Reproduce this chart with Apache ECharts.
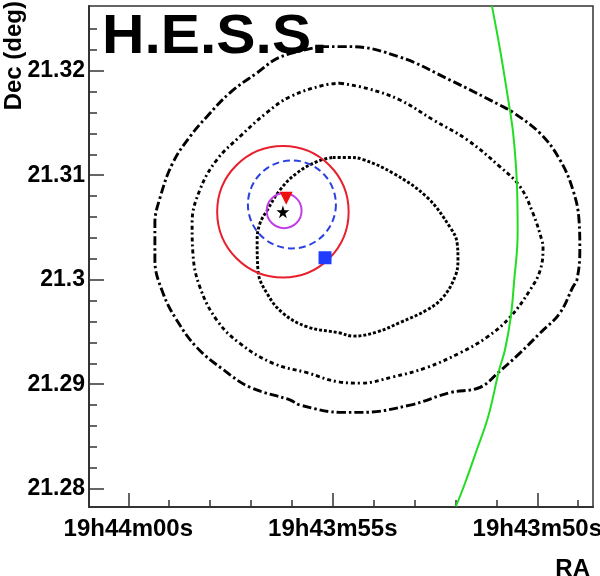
<!DOCTYPE html>
<html>
<head>
<meta charset="utf-8">
<script src="https://cdn.jsdelivr.net/npm/echarts@6/dist/echarts.min.js"></script>
<style>
html, body { margin: 0; padding: 0; background: #fff; }
#chart { width: 600px; height: 576px; }
</style>
</head>
<body>
<div id="chart"></div>
<script>
// RA is given in seconds after 19h43m, Dec in degrees
var raMin = 48.638, raMax = 60.961;
var decMin = 21.27825, decMax = 21.32619;

var raTicks = [50, 55, 60];
var raTickLabels = ['19h43m50s', '19h43m55s', '19h44m00s'];
var raMinorTicks = [49, 51, 52, 53, 54, 56, 57, 58, 59];
var decTicks = [21.28, 21.29, 21.30, 21.31, 21.32];
var decTickLabels = ['21.28', '21.29', '21.3', '21.31', '21.32'];
var decMinorTicks = [21.282, 21.284, 21.286, 21.288, 21.292, 21.294, 21.296, 21.298,
    21.302, 21.304, 21.306, 21.308, 21.312, 21.314, 21.316, 21.318, 21.322, 21.324];

// significance contours
var contourOuter = [
    [55.31, 21.3223], [54.58, 21.3223], [53.36, 21.3213], [52.13, 21.3191], [50.91, 21.3167],
    [50.59, 21.3160], [49.93, 21.3140], [49.45, 21.3115], [49.13, 21.3086], [48.98, 21.3057],
    [48.96, 21.3028], [49.03, 21.3000], [49.13, 21.2993], [49.45, 21.2968], [49.93, 21.2949],
    [50.42, 21.2930], [50.93, 21.2912], [51.40, 21.2897], [52.13, 21.2892], [53.11, 21.2880],
    [54.33, 21.2873], [54.75, 21.2873], [55.80, 21.2880], [56.05, 21.2885], [57.02, 21.2897],
    [57.68, 21.2914], [58.32, 21.2935], [58.81, 21.2961], [59.15, 21.2987], [59.35, 21.3019],
    [59.35, 21.3054], [59.22, 21.3079], [58.91, 21.3112], [58.49, 21.3137], [58.08, 21.3156],
    [57.51, 21.3179], [56.85, 21.3198], [56.29, 21.3213], [55.31, 21.3223]
];
var contourMiddle = [
    [54.82, 21.3188], [54.16, 21.3183], [53.36, 21.3172], [52.55, 21.3153], [51.72, 21.3134],
    [50.91, 21.3108], [50.42, 21.3089], [50.11, 21.3064], [49.89, 21.3038], [49.86, 21.3031],
    [49.93, 21.3009], [50.18, 21.2990], [50.67, 21.2964], [51.23, 21.2945], [51.89, 21.2930],
    [52.70, 21.2916], [53.53, 21.2907], [54.33, 21.2901], [54.82, 21.2902], [55.63, 21.2911],
    [56.46, 21.2920], [57.27, 21.2939], [57.83, 21.2961], [58.25, 21.2993], [58.42, 21.3025],
    [58.44, 21.3054], [58.25, 21.3086], [57.83, 21.3115], [57.27, 21.3137], [56.61, 21.3160],
    [56.05, 21.3175], [55.24, 21.3186], [54.82, 21.3188]
];
var contourInner = [
    [55.00, 21.3117], [54.58, 21.3117], [54.26, 21.3115], [53.53, 21.3102], [52.70, 21.3079],
    [52.13, 21.3050], [51.96, 21.3035], [51.94, 21.3019], [52.01, 21.3003], [52.31, 21.2983],
    [52.70, 21.2971], [53.36, 21.2959], [53.92, 21.2950], [54.51, 21.2946], [54.82, 21.2949],
    [55.63, 21.2955], [56.22, 21.2968], [56.61, 21.2987], [56.83, 21.3009], [56.85, 21.3038],
    [56.78, 21.3054], [56.61, 21.3066], [56.29, 21.3086], [55.88, 21.3102], [55.39, 21.3113],
    [55.00, 21.3117]
];

// green boundary curve
var greenCurve = [
    [51.11, 21.3262], [50.91, 21.3220], [50.71, 21.3172], [50.59, 21.3140], [50.50, 21.3093],
    [50.48, 21.3045], [50.57, 21.2997], [50.65, 21.2964], [50.79, 21.2933], [50.93, 21.2914],
    [51.20, 21.2869], [51.48, 21.2837], [51.77, 21.2805], [51.99, 21.2783]
];

// circles: [ra, dec, radius in deg]
var circleRed = [[56.22, 21.3065, 0.00629]];
var circleBlue = [[56.00, 21.3072, 0.00421]];
var circleViolet = [[56.19, 21.3066, 0.00167]];

// point markers
var triangleMark = [[56.14, 21.3078]];
var starMark = [[56.22, 21.3065]];
var squareMark = [[55.19, 21.3021]];

var font = 'Liberation Sans, Helvetica, Arial, sans-serif';

function contour(data, dash) {
    return {
        type: 'line',
        data: data,
        showSymbol: false,
        smooth: 0.4,
        silent: true,
        z: 3,
        lineStyle: { color: '#000', width: 2.9, type: dash }
    };
}

function circle(data, color, dash) {
    return {
        type: 'custom',
        data: data,
        silent: true,
        z: 4,
        renderItem: function (params, api) {
            var c = api.coord([api.value(0), api.value(1)]);
            var r = api.size([0, api.value(2)])[1];
            return {
                type: 'circle',
                shape: { cx: c[0], cy: c[1], r: r },
                style: { fill: 'none', stroke: color, lineWidth: 2, lineDash: dash }
            };
        }
    };
}

function tickLabel(list, labels) {
    return function (v) {
        for (var i = 0; i < list.length; i++) {
            if (Math.abs(list[i] - v) < 1e-6) return labels[i];
        }
        return '';
    };
}

var myChart = echarts.init(document.getElementById('chart'));
var option = {
    animation: false,
    backgroundColor: '#fff',
    grid: {
        left: 89, right: 7, top: 6, bottom: 69,
        outerBoundsMode: 'none', containLabel: false,
        show: true, borderColor: '#333', borderWidth: 1.5, backgroundColor: 'transparent'
    },
    xAxis: [
        {
            type: 'value', min: raMin, max: raMax, inverse: true,
            axisLine: { show: true, onZero: false, lineStyle: { color: '#333', width: 2 } },
            axisTick: { show: true, inside: true, length: 14, customValues: raTicks, lineStyle: { color: '#333', width: 1.5 } },
            axisLabel: {
                customValues: raTicks, formatter: tickLabel(raTicks, raTickLabels),
                color: '#000', fontFamily: font, fontWeight: 'bold', fontSize: 24, margin: 10
            },
            splitLine: { show: false }
        },
        {
            type: 'value', min: raMin, max: raMax, inverse: true, position: 'bottom',
            axisLine: { show: false, onZero: false },
            axisTick: { show: true, inside: true, length: 7, customValues: raMinorTicks, lineStyle: { color: '#333', width: 1.5 } },
            axisLabel: { show: false },
            splitLine: { show: false }
        }
    ],
    yAxis: [
        {
            type: 'value', min: decMin, max: decMax,
            axisLine: { show: true, onZero: false, lineStyle: { color: '#333', width: 2 } },
            axisTick: { show: true, inside: true, length: 15, customValues: decTicks, lineStyle: { color: '#333', width: 1.5 } },
            axisLabel: {
                customValues: decTicks, formatter: tickLabel(decTicks, decTickLabels),
                color: '#000', fontFamily: font, fontWeight: 'bold', fontSize: 23, margin: 4
            },
            splitLine: { show: false }
        },
        {
            type: 'value', min: decMin, max: decMax, position: 'left',
            axisLine: { show: false, onZero: false },
            axisTick: { show: true, inside: true, length: 8, customValues: decMinorTicks, lineStyle: { color: '#333', width: 1.5 } },
            axisLabel: { show: false },
            splitLine: { show: false }
        }
    ],
    graphic: [
        {
            type: 'text', x: 102, y: 38, z: 100, scaleX: 1.05,
            style: { text: 'H.E.S.S.', fill: '#000', font: 'bold 56px ' + font, textAlign: 'left', textVerticalAlign: 'middle' }
        },
        {
            type: 'text', x: 14, y: 1, rotation: Math.PI / 2, z: 100,
            style: { text: 'Dec (deg)', fill: '#000', font: 'bold 24px ' + font, textAlign: 'right', textVerticalAlign: 'middle' }
        },
        {
            type: 'text', x: 590, y: 569, z: 100,
            style: { text: 'RA', fill: '#000', font: 'bold 24px ' + font, textAlign: 'right', textVerticalAlign: 'middle' }
        }
    ],
    series: [
        contour(contourOuter, [9, 3, 2.5, 3]),
        contour(contourMiddle, [4, 3, 2, 3]),
        contour(contourInner, [3, 2]),
        {
            type: 'line', data: greenCurve, showSymbol: false, smooth: 0.4, silent: true, z: 5,
            lineStyle: { color: '#22dd22', width: 2 }
        },
        circle(circleRed, '#e8202e', null),
        circle(circleBlue, '#2a40e0', [7, 4]),
        circle(circleViolet, '#c040e8', null),
        {
            type: 'scatter', data: triangleMark, symbol: 'triangle', symbolRotate: 180, symbolSize: 13, z: 6,
            itemStyle: { color: '#ee1111', opacity: 1 }, silent: true
        },
        {
            type: 'scatter', data: starMark, z: 7, silent: true,
            symbol: 'path://M50,0 L61,35 L98,35 L68,57 L79,91 L50,70 L21,91 L32,57 L2,35 L39,35 Z',
            symbolSize: 13, itemStyle: { color: '#000', opacity: 1 }
        },
        {
            type: 'scatter', data: squareMark, symbol: 'rect', symbolSize: 13, z: 6,
            itemStyle: { color: '#1f3dff', opacity: 1 }, silent: true
        }
    ]
};
myChart.setOption(option);
</script>
</body>
</html>
